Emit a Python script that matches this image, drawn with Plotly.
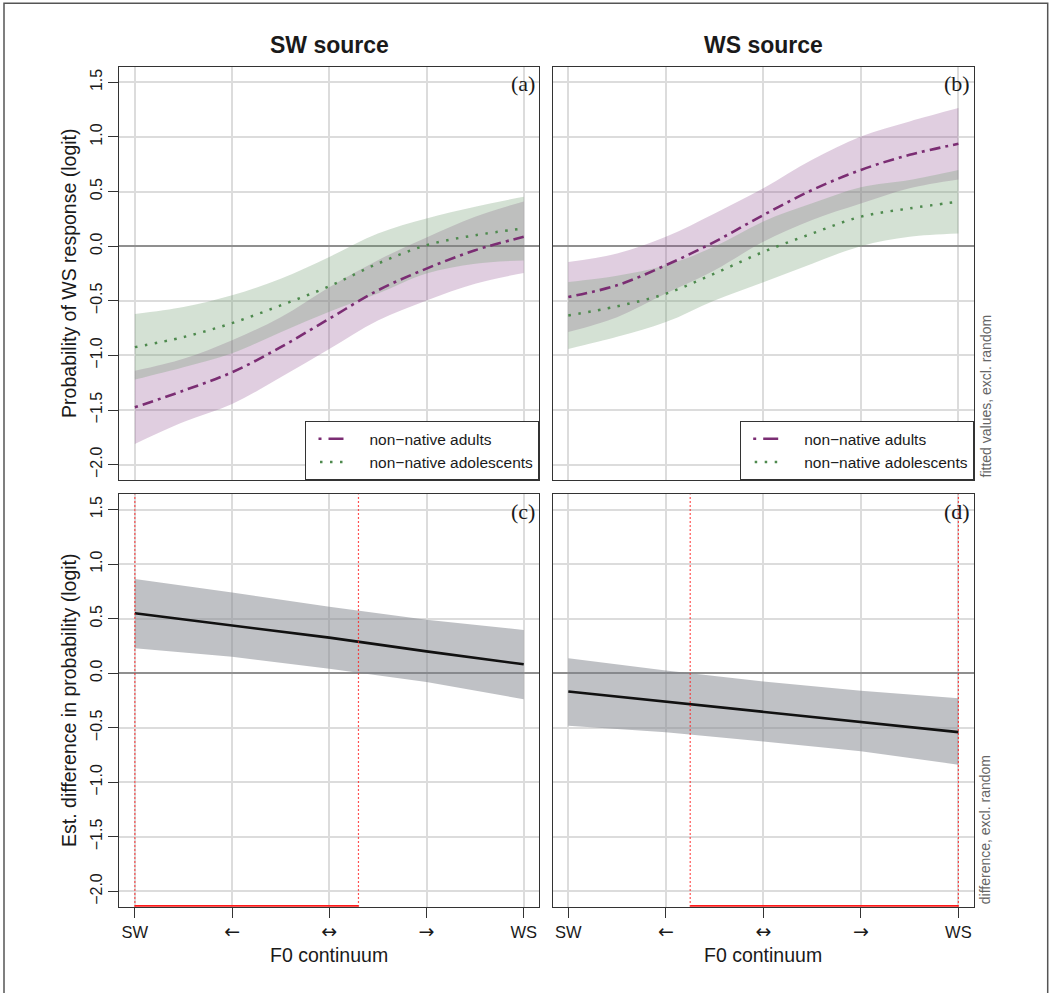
import plotly.graph_objects as go

# ---------------- data ----------------
x_fit = [0, 0.5, 1, 1.5, 2, 2.5, 3, 3.5, 4]
x_diff = [0, 1, 2, 3, 4]
x_tick_vals = [0, 1, 2, 3, 4]
x_tick_labels = ["SW", "←", "↔", "→", "WS"]
y_tick_vals = [-2.0, -1.5, -1.0, -0.5, 0.0, 0.5, 1.0, 1.5]
y_tick_labels = ["−2.0", "−1.5", "−1.0", "−0.5", "0.0", "0.5", "1.0", "1.5"]

# (a) SW source
adults_fit_sw = [-1.475, -1.322, -1.154, -0.924, -0.664, -0.404, -0.205, -0.037, 0.086]
adults_lo_sw = [-1.81, -1.61, -1.445, -1.20, -0.94, -0.68, -0.496, -0.343, -0.245]
adults_hi_sw = [-1.14, -1.03, -0.86, -0.65, -0.375, -0.128, 0.08, 0.27, 0.41]
adol_fit_sw = [-0.924, -0.832, -0.704, -0.542, -0.367, -0.159, 0.009, 0.10, 0.162]
adol_lo_sw = [-1.22, -1.107, -0.98, -0.787, -0.60, -0.434, -0.25, -0.16, -0.13]
adol_hi_sw = [-0.62, -0.557, -0.45, -0.297, -0.098, 0.116, 0.254, 0.361, 0.453]

# (b) WS source
adults_fit_ws = [-0.465, -0.358, -0.174, 0.04, 0.285, 0.514, 0.698, 0.836, 0.937]
adults_lo_ws = [-0.785, -0.65, -0.434, -0.22, 0.04, 0.24, 0.39, 0.53, 0.61]
adults_hi_ws = [-0.144, -0.067, 0.086, 0.30, 0.53, 0.79, 1.004, 1.142, 1.264]
adol_fit_ws = [-0.634, -0.55, -0.435, -0.25, -0.052, 0.116, 0.27, 0.346, 0.407]
adol_lo_ws = [-0.94, -0.83, -0.695, -0.496, -0.33, -0.16, 0.0, 0.086, 0.116]
adol_hi_ws = [-0.328, -0.27, -0.175, -0.004, 0.226, 0.392, 0.54, 0.606, 0.698]

# (c) difference, SW source
diff_fit_sw = [0.549, 0.44, 0.326, 0.20, 0.082]
diff_lo_sw = [0.229, 0.152, 0.04, -0.08, -0.238]
diff_hi_sw = [0.863, 0.74, 0.61, 0.49, 0.396]
sig_sw = [0.0, 2.3]

# (d) difference, WS source
diff_fit_ws = [-0.168, -0.26, -0.35, -0.442, -0.54]
diff_lo_ws = [-0.482, -0.54, -0.625, -0.716, -0.838]
diff_hi_ws = [0.137, 0.024, -0.076, -0.16, -0.229]
sig_ws = [1.25, 4.0]

group_names = ["non−native adults", "non−native adolescents"]

# ---------------- styling ----------------
W, H = 1049, 993
X_RANGE = [-0.16, 4.16]
Y_RANGE = [-2.14, 1.64]
PA_X = (119.3, 539.3)
PB_X = (552.7, 974.0)
TOP_Y = (67.0, 480.0)
BOT_Y = (494.3, 906.7)

FONT = "Liberation Sans, Arial, Helvetica, sans-serif"
SERIF = "Liberation Serif, Times New Roman, serif"
TXT = "#1a1a1a"
PURPLE = "#7B2D73"
GREEN = "#4E8A4E"
PURPLE_FILL = "rgba(145,78,145,0.28)"
GREEN_FILL = "rgba(112,155,112,0.30)"
GREY_FILL = "rgba(128,131,140,0.50)"
RED = "#FF1A1A"
GRID = "#DCDCDC"
ADULT_DASH = "3px,5px,11px,5px"
ADOL_DASH = "2.5px,7.5px"
# legend samples (R style: a short key drawn inside a wider key area)
ADULT_KEY_DASH = "0px,7px,3px,7px,15px,200px"
ADOL_KEY_DASH = "0px,8.5px,2.5px,7.5px,2.5px,7.5px,2.5px,200px"


def fx(px):
    return px / W


def fy(py):
    return 1 - py / H


def tick_text(lab):
    if lab in ("←", "↔", "→"):
        return '<span style="font-family:\'DejaVu Sans\';font-size:19px">%s</span>' % lab
    return lab


fig = go.Figure()


def band(xs, lo, hi, color, xa, ya, shape):
    fig.add_trace(go.Scatter(x=xs, y=lo, mode="lines", line=dict(width=0, shape=shape),
                             showlegend=False, hoverinfo="skip", xaxis=xa, yaxis=ya))
    fig.add_trace(go.Scatter(x=xs, y=hi, mode="lines", line=dict(width=0, shape=shape),
                             fill="tonexty", fillcolor=color, showlegend=False,
                             hoverinfo="skip", xaxis=xa, yaxis=ya))


def fit_panel(xa, ya, a_fit, a_lo, a_hi, d_fit, d_lo, d_hi, legend):
    band(x_fit, a_lo, a_hi, PURPLE_FILL, xa, ya, "spline")
    band(x_fit, d_lo, d_hi, GREEN_FILL, xa, ya, "spline")
    fig.add_trace(go.Scatter(x=x_fit, y=a_fit, mode="lines", name=group_names[0],
                             line=dict(color=PURPLE, width=2.6, dash=ADULT_DASH, shape="spline"),
                             xaxis=xa, yaxis=ya, showlegend=False))
    fig.add_trace(go.Scatter(x=x_fit, y=d_fit, mode="lines", name=group_names[1],
                             line=dict(color=GREEN, width=2.5, dash=ADOL_DASH, shape="spline"),
                             xaxis=xa, yaxis=ya, showlegend=False))
    # legend keys
    fig.add_trace(go.Scatter(x=[None], y=[None], mode="lines", name=group_names[0],
                             line=dict(color=PURPLE, width=2.6, dash=ADULT_KEY_DASH),
                             xaxis=xa, yaxis=ya, legend=legend, hoverinfo="skip"))
    fig.add_trace(go.Scatter(x=[None], y=[None], mode="lines", name=group_names[1],
                             line=dict(color=GREEN, width=2.5, dash=ADOL_KEY_DASH),
                             xaxis=xa, yaxis=ya, legend=legend, hoverinfo="skip"))


def diff_panel(xa, ya, fit, lo, hi, sig):
    band(x_diff, lo, hi, GREY_FILL, xa, ya, "linear")
    fig.add_trace(go.Scatter(x=x_diff, y=fit, mode="lines", line=dict(color="#111111", width=2.6),
                             showlegend=False, xaxis=xa, yaxis=ya))
    for xv in sig:
        fig.add_trace(go.Scatter(x=[xv, xv], y=Y_RANGE, mode="lines",
                                 line=dict(color=RED, width=1.2, dash="1.5px,2.5px"),
                                 showlegend=False, hoverinfo="skip", xaxis=xa, yaxis=ya,
                                 cliponaxis=True))
    fig.add_trace(go.Scatter(x=sig, y=[Y_RANGE[0], Y_RANGE[0]], mode="lines",
                             line=dict(color=RED, width=3.2), showlegend=False,
                             hoverinfo="skip", xaxis=xa, yaxis=ya, cliponaxis=False))


fit_panel("x", "y", adults_fit_sw, adults_lo_sw, adults_hi_sw,
          adol_fit_sw, adol_lo_sw, adol_hi_sw, "legend")
fit_panel("x2", "y2", adults_fit_ws, adults_lo_ws, adults_hi_ws,
          adol_fit_ws, adol_lo_ws, adol_hi_ws, "legend2")
diff_panel("x3", "y3", diff_fit_sw, diff_lo_sw, diff_hi_sw, sig_sw)
diff_panel("x4", "y4", diff_fit_ws, diff_lo_ws, diff_hi_ws, sig_ws)


def xaxis(dom, anchor, labels):
    d = dict(domain=[fx(dom[0]), fx(dom[1])], anchor=anchor, range=X_RANGE,
             tickvals=x_tick_vals, showgrid=True, gridcolor=GRID, gridwidth=1.5,
             zeroline=False, showline=True, mirror=True, linecolor="#333333", linewidth=1.3,
             fixedrange=True)
    if labels:
        d.update(ticktext=[tick_text(t) for t in x_tick_labels], showticklabels=True,
                 ticks="outside", ticklen=10, tickwidth=1.3, tickcolor="#333333",
                 ticklabelstandoff=0,
                 tickfont=dict(family=FONT, size=16.5, color=TXT))
    else:
        d.update(showticklabels=False, ticks="")
    return d


def yaxis(dom, anchor, labels):
    d = dict(domain=[fy(dom[1]), fy(dom[0])], anchor=anchor, range=Y_RANGE,
             tickvals=y_tick_vals, showgrid=True, gridcolor=GRID, gridwidth=1.5,
             zeroline=True, zerolinecolor="#8F8F8F", zerolinewidth=1.6,
             showline=True, mirror=True, linecolor="#333333", linewidth=1.3, fixedrange=True)
    if labels:
        d.update(ticktext=y_tick_labels, showticklabels=True, ticks="outside", ticklen=10,
                 tickwidth=1.3, tickcolor="#333333", tickangle=-90,
                 tickfont=dict(family=FONT, size=16, color=TXT))
    else:
        d.update(showticklabels=False, ticks="")
    return d


legend_common = dict(bgcolor="white", bordercolor="#333333", borderwidth=1.2,
                     font=dict(family=FONT, size=15.5, color=TXT),
                     xanchor="right", yanchor="bottom", itemwidth=53,
                     tracegroupgap=0, traceorder="normal")

fig.update_layout(
    width=W, height=H,
    margin=dict(l=0, r=0, t=0, b=0),
    paper_bgcolor="white", plot_bgcolor="white",
    font=dict(family=FONT, color=TXT),
    xaxis=xaxis(PA_X, "y", False),
    yaxis=yaxis(TOP_Y, "x", True),
    xaxis2=xaxis(PB_X, "y2", False),
    yaxis2=yaxis(TOP_Y, "x2", False),
    xaxis3=xaxis(PA_X, "y3", True),
    yaxis3=yaxis(BOT_Y, "x3", True),
    xaxis4=xaxis(PB_X, "y4", True),
    yaxis4=yaxis(BOT_Y, "x4", False),
    legend=dict(x=fx(PA_X[1]), y=fy(TOP_Y[1]), **legend_common),
    legend2=dict(x=fx(PB_X[1]), y=fy(TOP_Y[1]), **legend_common),
    showlegend=True,
)

annotations = []


def ann(text, x, y, size, family=FONT, angle=0, xanchor="center", yanchor="middle", color=TXT):
    annotations.append(dict(text=text, x=x, y=y, xref="paper", yref="paper", showarrow=False,
                            font=dict(family=family, size=size, color=color), textangle=angle,
                            xanchor=xanchor, yanchor=yanchor))


ann("<b>SW source</b>", fx((PA_X[0] + PA_X[1]) / 2), fy(45), 23)
ann("<b>WS source</b>", fx((PB_X[0] + PB_X[1]) / 2), fy(45), 23)
ann("Probability of WS response (logit)", fx(68.4), fy((TOP_Y[0] + TOP_Y[1]) / 2), 19.5, angle=-90)
ann("Est. difference in probability (logit)", fx(68.4), fy((BOT_Y[0] + BOT_Y[1]) / 2), 19.5, angle=-90)
ann("F0 continuum", fx((PA_X[0] + PA_X[1]) / 2), fy(955), 19.5)
ann("F0 continuum", fx((PB_X[0] + PB_X[1]) / 2), fy(955), 19.5)
ann("fitted values, excl. random", fx(985), fy(TOP_Y[1]), 14, angle=-90, yanchor="bottom", color="#666666")
ann("difference, excl. random", fx(985), fy(BOT_Y[1]), 14, angle=-90, yanchor="bottom", color="#666666")
for lab, px, py in [("(a)", PA_X[1], TOP_Y[0]), ("(b)", PB_X[1], TOP_Y[0]),
                    ("(c)", PA_X[1], BOT_Y[0]), ("(d)", PB_X[1], BOT_Y[0])]:
    ann(lab, fx(px - 2), fy(py + 17), 22, family=SERIF, xanchor="right")

fig.update_layout(annotations=annotations)

fig.add_shape(type="rect", xref="paper", yref="paper", x0=fx(4), x1=fx(1047.7),
              y0=-0.02, y1=fy(3.3), line=dict(color="#555555", width=1.5), layer="below")

fig.write_html("out.html", config={"displayModeBar": False},
               post_script="document.body.style.margin='0px';"
                           "document.body.style.overflow='hidden';")
